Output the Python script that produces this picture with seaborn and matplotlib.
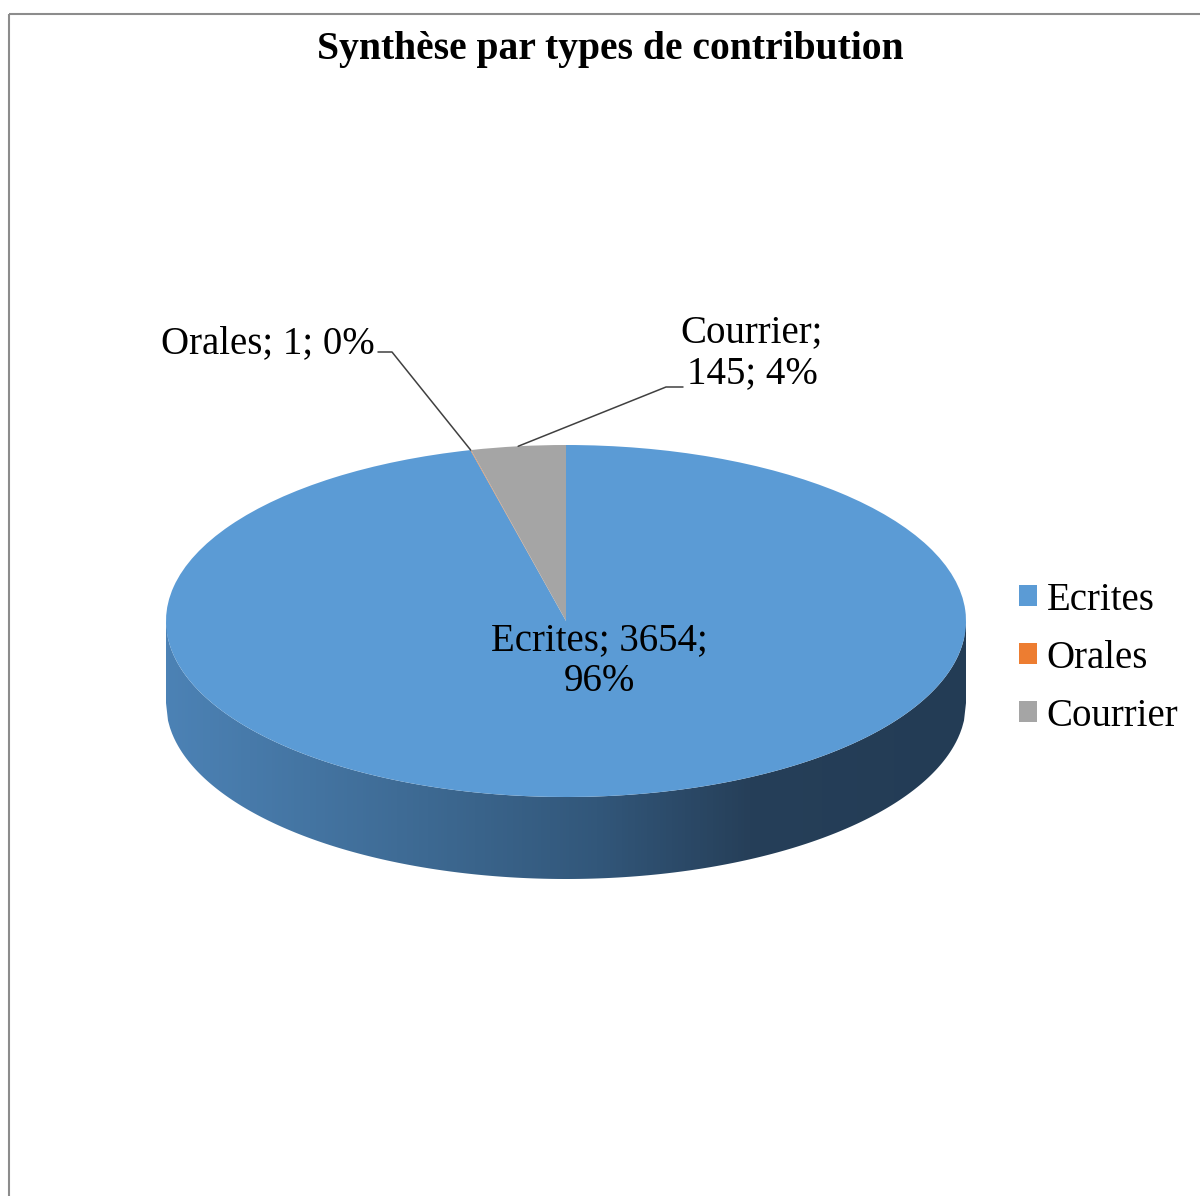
import numpy as np
import seaborn as sns
from matplotlib import pyplot as plt
from matplotlib.colors import LinearSegmentedColormap

##### Data #####
categories = ['Ecrites', 'Orales', 'Courrier']
counts = [3654, 1, 145]
percents = ['96%', '0%', '4%']
title = 'Synthèse par types de contribution'

##### Style #####
sns.set_theme(style="white")
plt.rcParams['font.family'] = ['Liberation Serif', 'DejaVu Serif']
plt.rcParams['text.color'] = 'black'
palette = ['#5B9BD5', '#ED7D31', '#A5A5A5']
side_cmap = LinearSegmentedColormap.from_list(
    'side', [(0, '#4c82b5'), (0.29, '#3f6c96'), (0.54, '#32577a'),
             (0.73, '#263f59'), (1, '#233c55')])
fs = 28

W, H = 1200, 1196
fig = plt.figure(figsize=(W / 100, H / 100), dpi=100)
fig.patch.set_facecolor('white')

# pie axes: 400 px per unit in x, 176 px per unit in y (flattened 3D look)
rx, ry = 400, 176
cx, cy = 566, 621
ax = fig.add_axes([(cx - 500) / W, (H - cy - 300) / H, 1000 / W, 600 / H])

wedges, _ = ax.pie(counts, colors=palette, startangle=90, counterclock=False,
                   radius=1, wedgeprops=dict(linewidth=0))
for w in wedges:
    w.set_zorder(2)

# side of the cylinder (front half), gradient fill
depth = 82 / ry
xs = np.linspace(-1, 1, 400)
top = -np.sqrt(1 - xs ** 2)
band = ax.fill_between(xs, top - depth, top, color='none', linewidth=0, zorder=0)
grad = np.linspace(0, 1, 256).reshape(1, -1)
img = ax.imshow(grad, extent=(-1, 1, -1 - depth, 0), aspect='auto',
                cmap=side_cmap, zorder=1)
img.set_clip_path(band.get_paths()[0], transform=ax.transData)

ax.set_aspect('auto')
ax.set_xlim(-500 / rx, 500 / rx)
ax.set_ylim(-300 / ry, 300 / ry)
ax.axis('off')

# overlay in pixel coords for texts, leaders, frame and legend
ov = fig.add_axes([0, 0, 1, 1], zorder=3)
ov.set_xlim(0, W)
ov.set_ylim(H, 0)
ov.axis('off')
ov.patch.set_alpha(0)


def rim_px(wedge):
    mid = np.deg2rad((wedge.theta1 + wedge.theta2) / 2)
    dx, dy = ax.transData.transform((np.cos(mid), np.sin(mid)))
    return dx, H - dy


# frame
ov.plot([9, 9], [13.5, H], color='#8c8c8c', lw=1.5, solid_capstyle='butt')
ov.plot([9, W], [13.5, 13.5], color='#8c8c8c', lw=1.5, solid_capstyle='butt')

ov.text(610, 49, title, ha='center', va='center', fontsize=28.5,
        fontweight='bold', color='black')

# data labels
ov.text(599, 661, f'{categories[0]}; {counts[0]};\n{percents[0]}', ha='center',
        va='center', fontsize=fs, linespacing=1.15, color='black')
ov.text(375, 344, f'{categories[1]}; {counts[1]}; {percents[1]}', ha='right',
        va='center', fontsize=fs, color='black')
ov.text(752, 353, f'{categories[2]};\n{counts[2]}; {percents[2]}', ha='center',
        va='center', fontsize=fs, linespacing=1.15, color='black')

# leader lines
lead = '#404040'
ox, oy = rim_px(wedges[1])
ov.plot([378, 392, ox], [352, 352, oy], color=lead, lw=1.1)
kx, ky = rim_px(wedges[2])
ov.plot([683, 666, kx], [387, 387, ky], color=lead, lw=1.1)

# legend
leg = ov.legend(wedges, categories, loc='center left', bbox_to_anchor=(1019, 658),
                bbox_transform=ov.transData, frameon=False, fontsize=fs,
                handlelength=0.46, handleheight=0.46, handletextpad=0.25,
                labelspacing=0.54, borderpad=0, borderaxespad=0)
for t in leg.get_texts():
    t.set_color('black')

fig.savefig('out.png', dpi=100, facecolor='white')
